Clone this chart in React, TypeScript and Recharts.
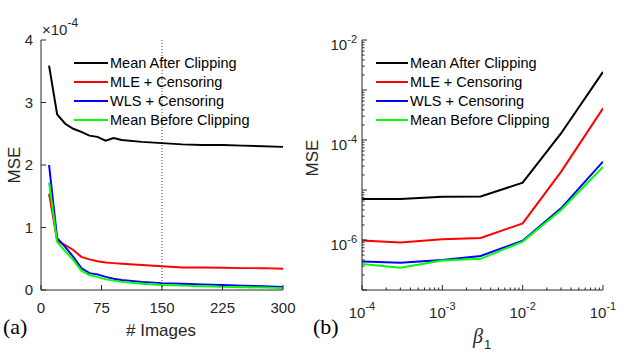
import React from 'react';
import { LineChart, Line, XAxis, YAxis, ReferenceLine, Legend } from 'recharts';

// panel (a): MSE (x1e-4) vs number of images
const imageCounts = [10, 20, 30, 40, 50, 60, 70, 80, 90, 100, 125, 150, 175, 200, 225, 250, 275, 300];
const meanAfterA = [3.59, 2.81, 2.66, 2.58, 2.53, 2.47, 2.45, 2.39, 2.43, 2.4, 2.37, 2.35, 2.33, 2.32, 2.32, 2.31, 2.3, 2.29];
const mleA = [1.54, 0.79, 0.72, 0.64, 0.53, 0.49, 0.46, 0.44, 0.43, 0.42, 0.4, 0.38, 0.36, 0.36, 0.355, 0.35, 0.35, 0.34];
const wlsA = [2.0, 0.83, 0.69, 0.53, 0.35, 0.27, 0.25, 0.21, 0.18, 0.16, 0.13, 0.11, 0.1, 0.09, 0.08, 0.07, 0.06, 0.05];
const meanBeforeA = [1.72, 0.77, 0.62, 0.48, 0.31, 0.24, 0.21, 0.17, 0.15, 0.13, 0.1, 0.08, 0.07, 0.06, 0.05, 0.045, 0.04, 0.03];

// panel (b): MSE vs beta_1 (log-log)
const betas = [1e-4, 3e-4, 1e-3, 3e-3, 1e-2, 3e-2, 1e-1];
const meanAfterB = [6.6e-6, 6.6e-6, 7.3e-6, 7.4e-6, 1.4e-5, 1.35e-4, 2.3e-3];
const mleB = [9.8e-7, 8.9e-7, 1.03e-6, 1.1e-6, 2.15e-6, 2.3e-5, 4.3e-4];
const wlsB = [3.7e-7, 3.5e-7, 4.0e-7, 4.8e-7, 9.7e-7, 4.3e-6, 3.7e-5];
const meanBeforeB = [3.3e-7, 2.8e-7, 3.9e-7, 4.2e-7, 9.3e-7, 4.0e-6, 2.9e-5];

const seriesNames = ['Mean After Clipping', 'MLE + Censoring', 'WLS + Censoring', 'Mean Before Clipping'];
const seriesColors = ['#000000', '#ff0000', '#0000ff', '#00ff00'];

const imageTicks = [0, 75, 150, 225, 300];
const mseTicksA = [0, 1, 2, 3, 4];
const betaExps = [-4, -3, -2, -1];
const mseExpsB = [-7, -6, -5, -4, -3, -2];
const mseLabelledExps = [-6, -4, -2];

// log axes get minor ticks at 2..9 x 10^e
const withMinors = (exps: number[]) => {
  const out: number[] = [];
  exps.forEach((e, i) => {
    const base = Math.pow(10, e);
    out.push(base);
    if (i < exps.length - 1) for (let k = 2; k <= 9; k++) out.push(k * base);
  });
  return out;
};
const betaTicks = withMinors(betaExps);
const mseTicksB = withMinors(mseExpsB);

const dataA = imageCounts.map((n, i) => ({ n, s0: meanAfterA[i], s1: mleA[i], s2: wlsA[i], s3: meanBeforeA[i] }));
const dataB = betas.map((b, i) => ({ b, s0: meanAfterB[i], s1: mleB[i], s2: wlsB[i], s3: meanBeforeB[i] }));

const AX = '#262626';
const FONT = '"Liberation Sans", Arial, Helvetica, sans-serif';
const SERIF = '"Liberation Serif", "Times New Roman", serif';

const isDecade = (v: number) => Math.abs(Math.log10(v) - Math.round(Math.log10(v))) < 1e-6;

function LinYTick({ x, y, payload }: any) {
  return (
    <g>
      <line x1={x} x2={x + 5} y1={y} y2={y} stroke={AX} />
      <text x={x - 8} y={y + 5} textAnchor="end" fontSize={15} fill={AX} fontFamily={FONT}>{payload.value}</text>
    </g>
  );
}

function LinXTick({ x, y, payload }: any) {
  return (
    <g>
      <line x1={x} x2={x} y1={y} y2={y - 5} stroke={AX} />
      <text x={x} y={y + 23} textAnchor="middle" fontSize={15} fill={AX} fontFamily={FONT}>{payload.value}</text>
    </g>
  );
}

function LogYTick({ x, y, payload }: any) {
  const major = isDecade(payload.value);
  const e = Math.round(Math.log10(payload.value));
  return (
    <g>
      <line x1={x} x2={x + (major ? 5 : 2.5)} y1={y} y2={y} stroke={AX} />
      {major && mseLabelledExps.includes(e) && (
        <text x={x - 5} y={y + 10} textAnchor="end" fontSize={15} fill={AX} fontFamily={FONT}>
          <tspan>10</tspan>
          <tspan dy={-7} fontSize={11}>{e}</tspan>
        </text>
      )}
    </g>
  );
}

function LogXTick({ x, y, payload }: any) {
  const major = isDecade(payload.value);
  const e = Math.round(Math.log10(payload.value));
  return (
    <g>
      <line x1={x} x2={x} y1={y} y2={y - (major ? 5 : 2.5)} stroke={AX} />
      {major && (
        <text x={x} y={y + 28} textAnchor="middle" fontSize={15} fill={AX} fontFamily={FONT}>
          <tspan>10</tspan>
          <tspan dy={-8} fontSize={11}>{e}</tspan>
        </text>
      )}
    </g>
  );
}

function LegendRows({ payload, lineLen }: any) {
  // keep plot order, not the legend's alphabetical sort
  const rows = [...(payload || [])].sort(
    (a: any, b: any) => seriesNames.indexOf(a.value) - seriesNames.indexOf(b.value)
  );
  return (
    <div style={{ fontFamily: FONT, fontSize: 14.5, color: '#000' }}>
      {rows.map((p: any) => (
        <div key={p.value} style={{ display: 'flex', alignItems: 'center', height: 19, whiteSpace: 'nowrap' }}>
          <svg width={lineLen} height={4} style={{ marginRight: 2 }}>
            <line x1={0} x2={lineLen} y1={2} y2={2} stroke={p.color} strokeWidth={2} />
          </svg>
          <span>{p.value}</span>
        </div>
      ))}
    </div>
  );
}

function Series() {
  return seriesNames.map((name, i) => (
    <Line
      key={name}
      type="linear"
      dataKey={`s${i}`}
      name={name}
      stroke={seriesColors[i]}
      strokeWidth={2}
      dot={false}
      isAnimationActive={false}
    />
  ));
}

export default function App() {
  return (
    <div style={{ position: 'absolute', left: 0, top: 0, width: 630, height: 357, background: '#fff' }}>
      <div style={{ position: 'absolute', left: 0, top: 0 }}>
        <LineChart width={315} height={357} data={dataA} margin={{ top: 40, right: 32, bottom: 47, left: 11 }}>
          <XAxis
            dataKey="n"
            type="number"
            domain={[0, 300]}
            ticks={imageTicks}
            interval={0}
            height={20}
            tickSize={0}
            tickMargin={0}
            tickLine={false}
            tick={<LinXTick />}
            axisLine={{ stroke: AX }}
          />
          <YAxis
            type="number"
            domain={[0, 4]}
            ticks={mseTicksA}
            interval={0}
            width={30}
            tickSize={0}
            tickMargin={0}
            tickLine={false}
            tick={<LinYTick />}
            axisLine={{ stroke: AX }}
          />
          <ReferenceLine x={150} stroke="#444" strokeDasharray="1 2" strokeWidth={1} />
          {Series()}
          <Legend
            layout="vertical"
            align="center"
            verticalAlign="middle"
            wrapperStyle={{ left: 74, top: 53, width: 'auto' }}
            content={<LegendRows lineLen={34} />}
          />
        </LineChart>
      </div>
      <div style={{ position: 'absolute', left: 315, top: 0 }}>
        <LineChart width={315} height={357} data={dataB} margin={{ top: 40, right: 27, bottom: 47, left: 7 }}>
          <XAxis
            dataKey="b"
            type="number"
            scale="log"
            domain={[1e-4, 1e-1]}
            allowDataOverflow
            ticks={betaTicks}
            interval={0}
            height={20}
            tickSize={0}
            tickMargin={0}
            tickLine={false}
            tick={<LogXTick />}
            axisLine={{ stroke: AX }}
          />
          <YAxis
            type="number"
            scale="log"
            domain={[1e-7, 1e-2]}
            allowDataOverflow
            ticks={mseTicksB}
            interval={0}
            width={40}
            tickSize={0}
            tickMargin={0}
            tickLine={false}
            tick={<LogYTick />}
            axisLine={{ stroke: AX }}
          />
          {Series()}
          <Legend
            layout="vertical"
            align="center"
            verticalAlign="middle"
            wrapperStyle={{ left: 61, top: 53, width: 'auto' }}
            content={<LegendRows lineLen={32} />}
          />
        </LineChart>
      </div>
      <svg width={630} height={357} style={{ position: 'absolute', left: 0, top: 0, pointerEvents: 'none' }}>
        <text x={42} y={35} fontSize={15} fill={AX} fontFamily={FONT}>
          <tspan>×10</tspan>
          <tspan dy={-8} fontSize={12}>-4</tspan>
        </text>
        <text transform="translate(20,165) rotate(-90)" textAnchor="middle" fontSize={17} fill={AX} fontFamily={FONT}>MSE</text>
        <text transform="translate(318,158) rotate(-90)" textAnchor="middle" fontSize={17} fill={AX} fontFamily={FONT}>MSE</text>
        <text x={161} y={336} textAnchor="middle" fontSize={17} fill={AX} fontFamily={FONT}># Images</text>
        <text x={3} y={334} fontSize={22} fill="#000" fontFamily={SERIF}>(a)</text>
        <text x={313} y={334} fontSize={22} fill="#000" fontFamily={SERIF}>(b)</text>
        <text x={473} y={343} fontSize={20} fill={AX} fontFamily={SERIF} fontStyle="italic">β</text>
        <text x={484} y={349} fontSize={13} fill={AX} fontFamily={FONT}>1</text>
      </svg>
    </div>
  );
}
